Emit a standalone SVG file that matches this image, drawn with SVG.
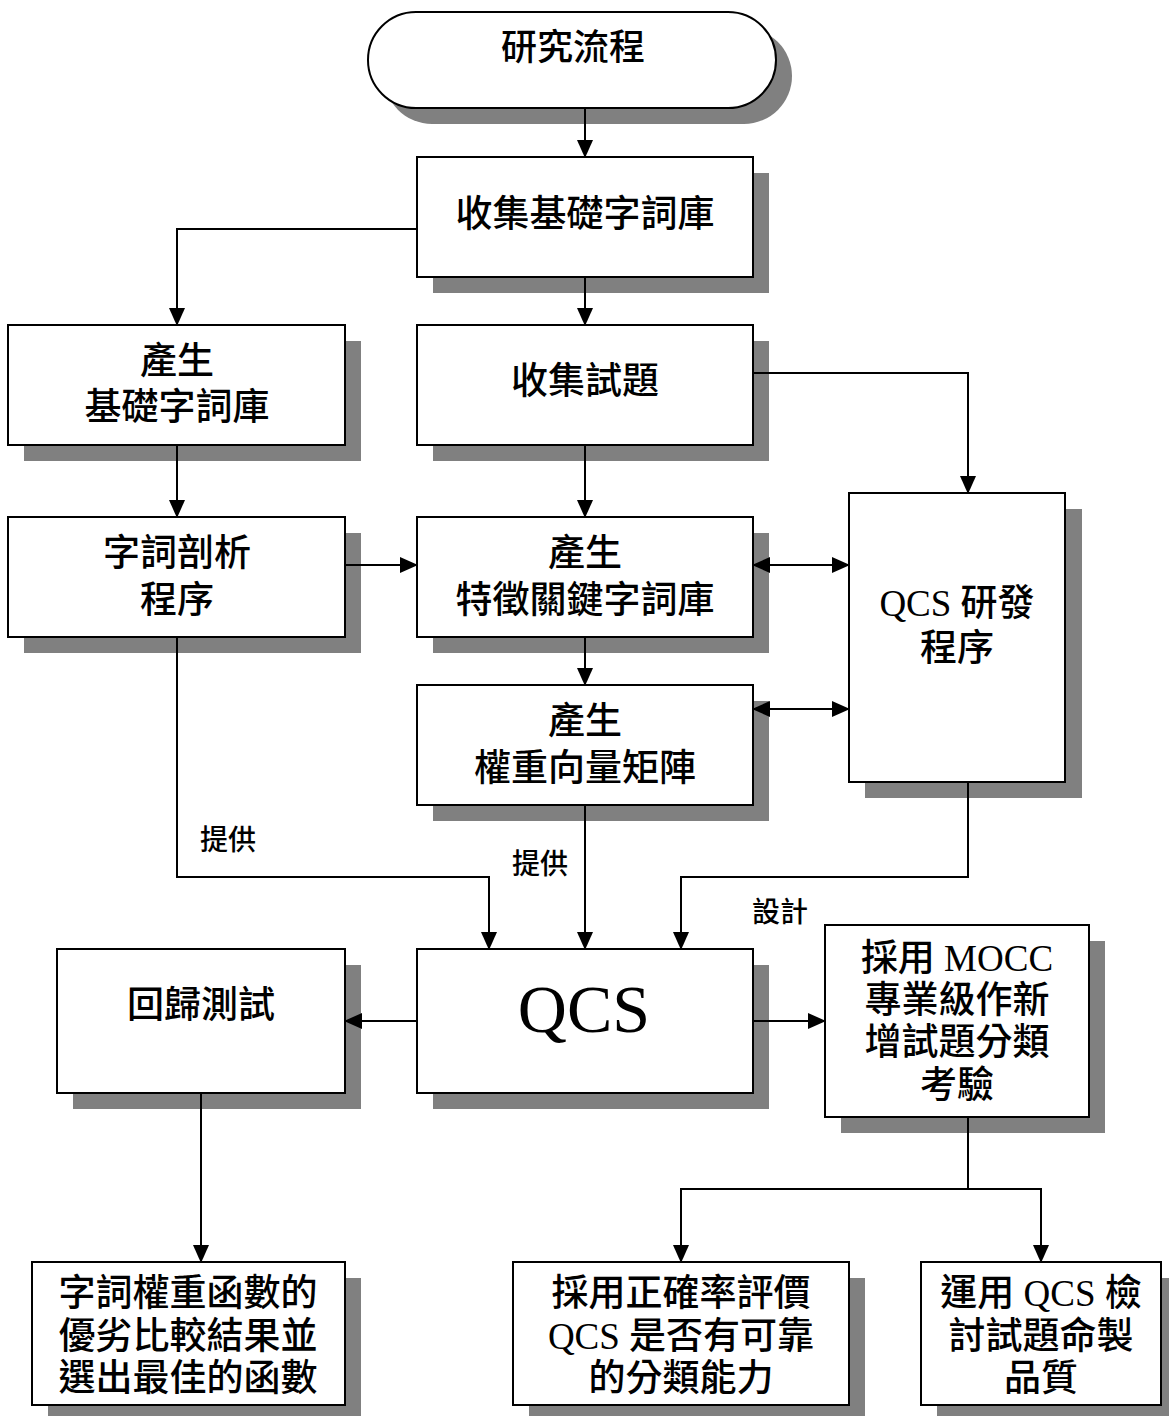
<svg xmlns="http://www.w3.org/2000/svg" width="1169" height="1416" viewBox="0 0 1169 1416">
<style>
.box{fill:#fff;stroke:#000;stroke-width:2}
.sh{fill:#808080}
.t{font-family:"Liberation Serif","Noto Sans CJK TC",sans-serif;font-size:37px;font-weight:500;text-anchor:middle;dominant-baseline:central;fill:#000}
.lbl{font-family:"Noto Sans CJK TC",sans-serif;font-size:28px;font-weight:500;text-anchor:middle;dominant-baseline:central;fill:#000}
.c{fill:none;stroke:#000;stroke-width:2}
</style>
<defs>
<marker id="ah" markerUnits="userSpaceOnUse" markerWidth="18" markerHeight="16" refX="17" refY="8" orient="auto-start-reverse">
<path d="M0,0 L18,8 L0,16 z" fill="#000"/>
</marker>
</defs>
<g id="n0">
<rect class="sh" x="384" y="28" width="408" height="96" rx="48"/>
<rect class="box" x="368" y="12" width="408" height="96" rx="48"/>
<text class="t" x="573" y="48" style="font-size:36px">研究流程</text>
</g>
<g id="n1">
<rect class="sh" x="433" y="173" width="336" height="120"/>
<rect class="box" x="417" y="157" width="336" height="120"/>
<text class="t" x="585" y="214">收集基礎字詞庫</text>
</g>
<g id="n2">
<rect class="sh" x="24" y="341" width="337" height="120"/>
<rect class="box" x="8" y="325" width="337" height="120"/>
<text class="t" x="177" y="361">產生</text>
<text class="t" x="177" y="407">基礎字詞庫</text>
</g>
<g id="n3">
<rect class="sh" x="433" y="341" width="336" height="120"/>
<rect class="box" x="417" y="325" width="336" height="120"/>
<text class="t" x="585" y="381">收集試題</text>
</g>
<g id="n4">
<rect class="sh" x="24" y="533" width="337" height="120"/>
<rect class="box" x="8" y="517" width="337" height="120"/>
<text class="t" x="177" y="553">字詞剖析</text>
<text class="t" x="177" y="600">程序</text>
</g>
<g id="n5">
<rect class="sh" x="433" y="533" width="336" height="120"/>
<rect class="box" x="417" y="517" width="336" height="120"/>
<text class="t" x="585" y="553">產生</text>
<text class="t" x="585" y="600">特徵關鍵字詞庫</text>
</g>
<g id="n6">
<rect class="sh" x="433" y="701" width="336" height="120"/>
<rect class="box" x="417" y="685" width="336" height="120"/>
<text class="t" x="585" y="721">產生</text>
<text class="t" x="585" y="768">權重向量矩陣</text>
</g>
<g id="n7">
<rect class="sh" x="865" y="509" width="217" height="289"/>
<rect class="box" x="849" y="493" width="216" height="289"/>
<text class="t" x="957" y="603">QCS 研發</text>
<text class="t" x="957" y="648">程序</text>
</g>
<g id="n8">
<rect class="sh" x="73" y="965" width="288" height="144"/>
<rect class="box" x="57" y="949" width="288" height="144"/>
<text class="t" x="201" y="1005">回歸測試</text>
</g>
<g id="n9">
<rect class="sh" x="433" y="965" width="336" height="144"/>
<rect class="box" x="417" y="949" width="336" height="144"/>
<text class="t" x="584" y="1032" style="font-size:68px;font-weight:400;dominant-baseline:auto">QCS</text>
</g>
<g id="n10">
<rect class="sh" x="841" y="941" width="264" height="192"/>
<rect class="box" x="825" y="925" width="264" height="192"/>
<text class="t" x="957" y="958">採用 MOCC</text>
<text class="t" x="957" y="1000">專業級作新</text>
<text class="t" x="957" y="1042">增試題分類</text>
<text class="t" x="957" y="1085">考驗</text>
</g>
<g id="n11">
<rect class="sh" x="48" y="1278" width="313" height="143"/>
<rect class="box" x="32" y="1262" width="313" height="143"/>
<text class="t" x="188" y="1293">字詞權重函數的</text>
<text class="t" x="188" y="1336">優劣比較結果並</text>
<text class="t" x="188" y="1378">選出最佳的函數</text>
</g>
<g id="n12">
<rect class="sh" x="529" y="1278" width="336" height="143"/>
<rect class="box" x="513" y="1262" width="336" height="143"/>
<text class="t" x="681" y="1293">採用正確率評價</text>
<text class="t" x="681" y="1336">QCS 是否有可靠</text>
<text class="t" x="681" y="1378">的分類能力</text>
</g>
<g id="n13">
<rect class="sh" x="937" y="1278" width="240" height="143"/>
<rect class="box" x="921" y="1262" width="240" height="143"/>
<text class="t" x="1041" y="1293">運用 QCS 檢</text>
<text class="t" x="1041" y="1336">討試題命製</text>
<text class="t" x="1041" y="1378">品質</text>
</g>
<g id="connectors">
<path class="c" d="M585,108 V157" marker-end="url(#ah)"/>
<path class="c" d="M417,229 H177 V325" marker-end="url(#ah)"/>
<path class="c" d="M585,277 V325" marker-end="url(#ah)"/>
<path class="c" d="M753,373 H968 V493" marker-end="url(#ah)"/>
<path class="c" d="M585,445 V517" marker-end="url(#ah)"/>
<path class="c" d="M177,445 V517" marker-end="url(#ah)"/>
<path class="c" d="M345,565 H417" marker-end="url(#ah)"/>
<path class="c" d="M753,565 H849" marker-start="url(#ah)" marker-end="url(#ah)"/>
<path class="c" d="M585,637 V685" marker-end="url(#ah)"/>
<path class="c" d="M753,709 H849" marker-start="url(#ah)" marker-end="url(#ah)"/>
<path class="c" d="M177,637 V877 H489 V949" marker-end="url(#ah)"/>
<path class="c" d="M585,805 V949" marker-end="url(#ah)"/>
<path class="c" d="M968,782 V877 H681 V949" marker-end="url(#ah)"/>
<path class="c" d="M417,1021 H345" marker-end="url(#ah)"/>
<path class="c" d="M753,1021 H825" marker-end="url(#ah)"/>
<path class="c" d="M201,1093 V1262" marker-end="url(#ah)"/>
<path class="c" d="M968,1117 V1189" />
<path class="c" d="M968,1189 H681 V1262" marker-end="url(#ah)"/>
<path class="c" d="M968,1189 H1041 V1262" marker-end="url(#ah)"/>
<text class="lbl" x="228" y="838">提供</text>
<text class="lbl" x="540" y="862">提供</text>
<text class="lbl" x="780" y="910">設計</text>
</g>
</svg>
